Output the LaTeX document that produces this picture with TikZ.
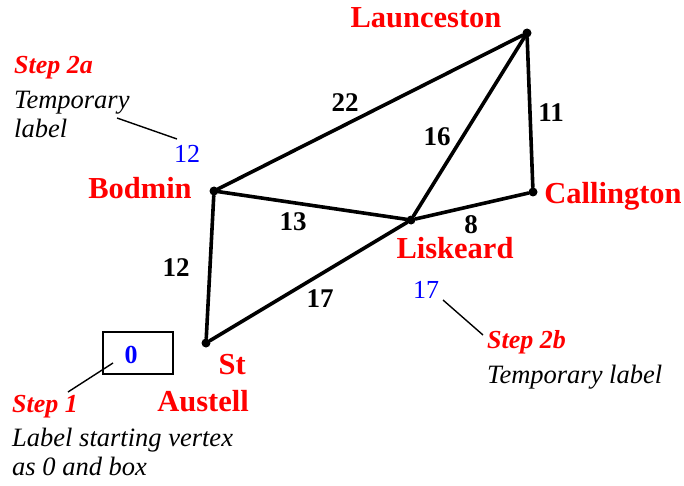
\documentclass[tikz,border=0pt]{standalone}
\usepackage{fontspec}
\setmainfont{Liberation Serif}
\definecolor{cred}{RGB}{255,0,0}
\definecolor{cblue}{RGB}{0,0,255}
\begin{document}
\begin{tikzpicture}[x=1pt,y=-1pt,
  vtx/.style={circle,fill=black,inner sep=0pt,minimum size=9pt},
  edge/.style={line width=3.6pt,line cap=round},
  city/.style={text=cred,font=\fontsize{30.5}{32}\selectfont\bfseries,inner sep=0pt},
  wt/.style={font=\fontsize{27}{30}\selectfont\bfseries,inner sep=0pt},
  tmp/.style={text=cblue,font=\fontsize{26}{30}\selectfont,inner sep=0pt},
  stepl/.style={text=cred,font=\fontsize{26}{30}\selectfont\bfseries\itshape,inner sep=0pt,anchor=west},
  note/.style={font=\fontsize{26.5}{29}\selectfont\itshape,inner sep=0pt,anchor=west,align=left},
  leader/.style={line width=1.4pt}]
\useasboundingbox (0,0) rectangle (684,486);
% vertices
\node[vtx] (L) at (527,33) {};
\node[vtx] (C) at (533,192) {};
\node[vtx] (K) at (411,220) {};
\node[vtx] (B) at (214,191) {};
\node[vtx] (S) at (206,343) {};
% edges
\draw[edge] (B) -- (L);
\draw[edge] (L) -- (C);
\draw[edge] (L) -- (K);
\draw[edge] (B) -- (K);
\draw[edge] (K) -- (C);
\draw[edge] (B) -- (S);
\draw[edge] (S) -- (K);
% city labels
\node[city] (tL) at (426,18) {Launceston};
\node[city] (tB) at (140,188) {Bodmin};
\node[city] (tC) at (613,196) {Callington};
\node[city] (tK) at (455,248) {Liskeard};
\node[city,anchor=east] (tS1) at (246,365) {St};
\node[city,anchor=east] (tS2) at (249,401) {Austell};
% weights
\node[wt] (w22) at (345,103) {22};
\node[wt] (w16) at (437,137) {16};
\node[wt] (w11) at (551,113) {11};
\node[wt] (w13) at (293,222) {13};
\node[wt] (w8) at (471,225) {8};
\node[wt] (w12) at (176,268) {12};
\node[wt] (w17) at (320,299) {17};
% temporary labels
\node[tmp] (t12) at (187,154) {12};
\node[tmp] (t17) at (426,290) {17};
\node[draw,line width=1.3pt,minimum width=70pt,minimum height=42pt,inner sep=0pt] (box) at (138,353) {};
\node[text=cblue,font=\fontsize{26}{30}\selectfont\bfseries,inner sep=0pt] (zero) at (131,355) {0};
% step notes
\node[stepl] (s2a) at (14,68) {Step 2a};
\node[note] (n2a) at (14,114) {Temporary\\label};
\node[stepl] (s1) at (12,407) {Step 1};
\node[note] (n1) at (12,452) {Label starting vertex\\as 0 and box};
\node[stepl] (s2b) at (487,342) {Step 2b};
\node[note] (n2b) at (487,377) {Temporary label};
% leaders
\coordinate (a1) at (117,118); \coordinate (a2) at (177,139);
\draw[leader] (a1) -- (a2);
\coordinate (b1) at (68,392); \coordinate (b2) at (113,363);
\draw[leader] (b1) -- (b2);
\coordinate (c1) at (443,300); \coordinate (c2) at (483,335);
\draw[leader] (c1) -- (c2);
\end{tikzpicture}
\end{document}
